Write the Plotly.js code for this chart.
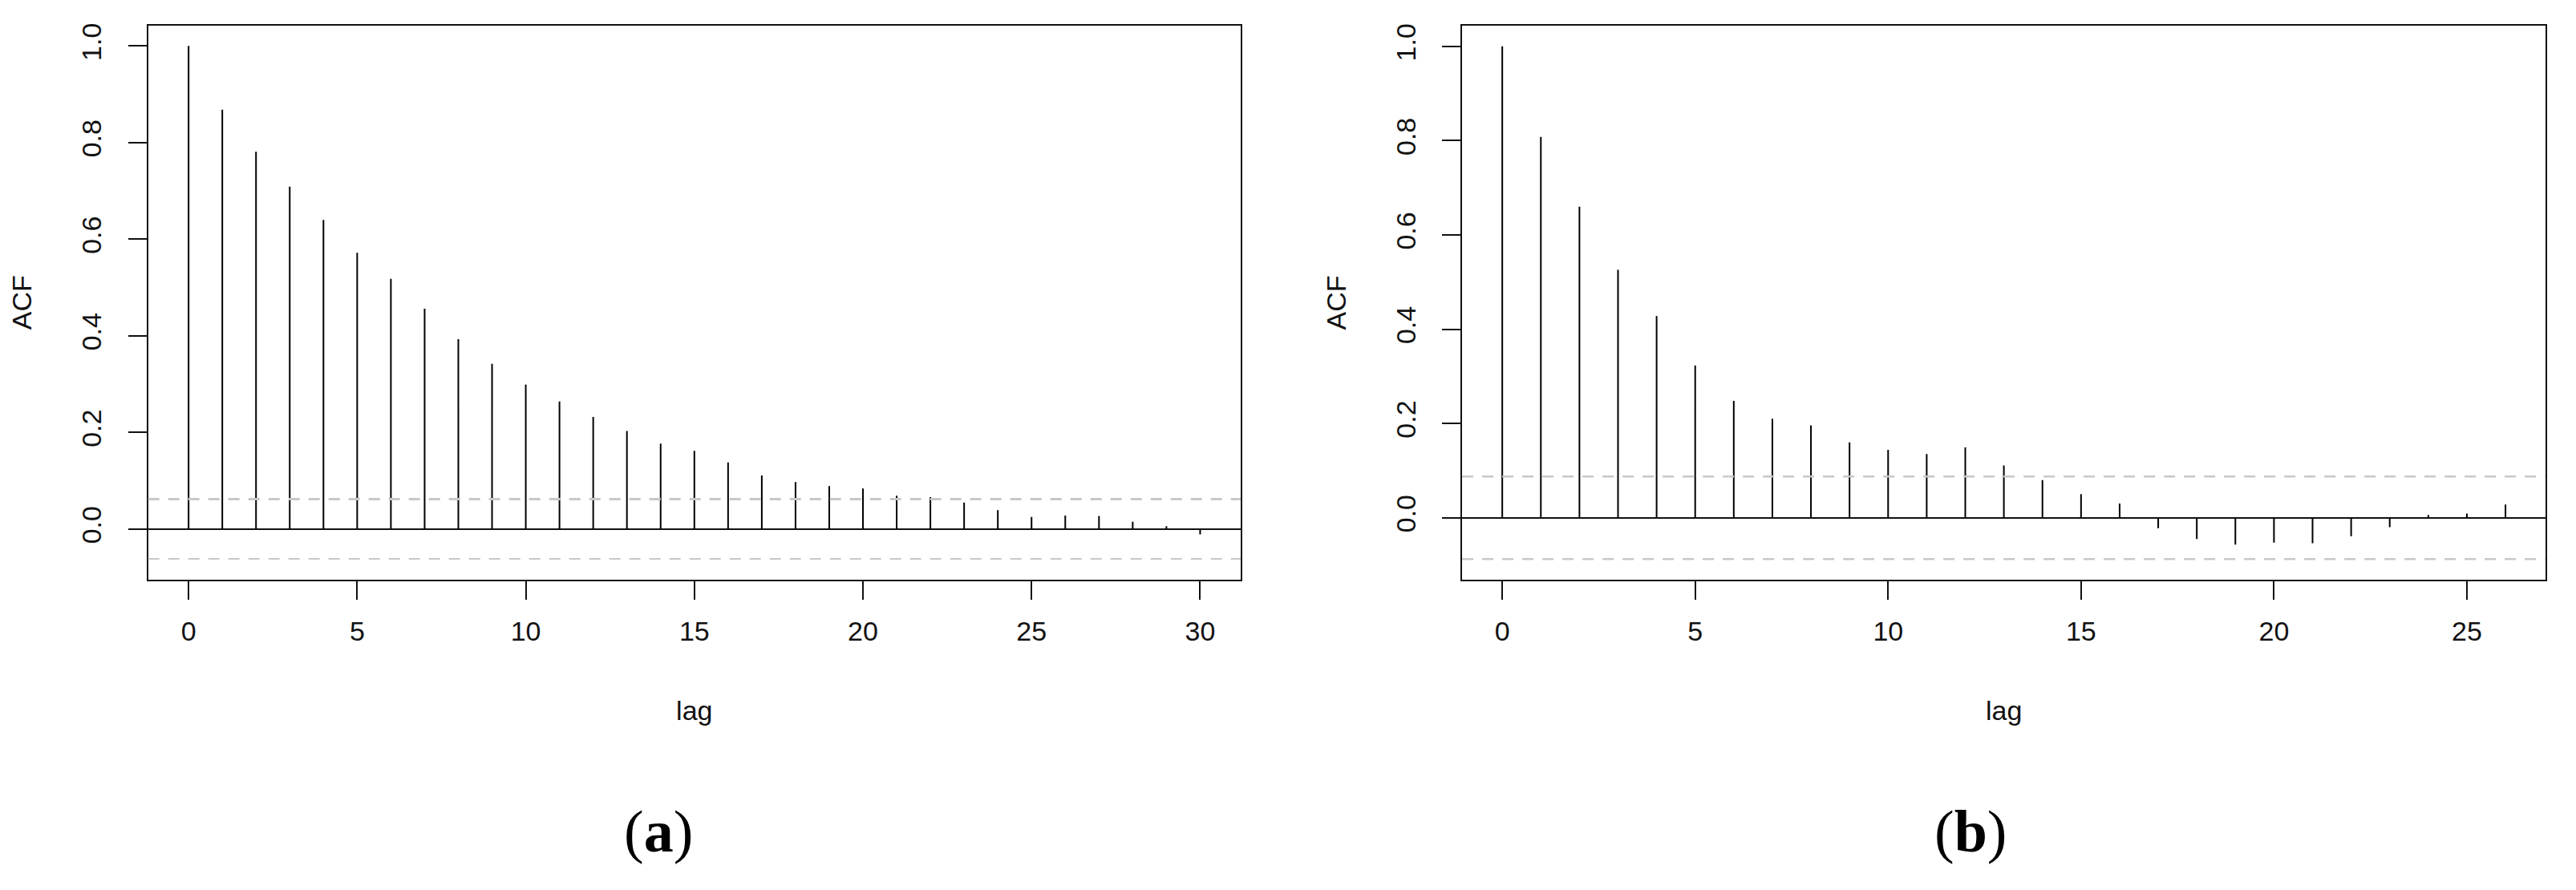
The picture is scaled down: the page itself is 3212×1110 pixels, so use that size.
<!DOCTYPE html>
<html>
<head>
<meta charset="utf-8">
<script src="https://cdn.plot.ly/plotly-3.0.1.min.js"></script>
<style>
  body { margin: 0; background: #fff; }
  #graph { width: 3212px; height: 1110px; }
</style>
</head>
<body>
<div id="graph"></div>
<script>
// ACF values
var lagsA = [0, 1, 2, 3, 4, 5, 6, 7, 8, 9, 10, 11, 12, 13, 14, 15, 16, 17, 18, 19, 20, 21, 22, 23, 24, 25, 26, 27, 28, 29, 30];
var acfA = [1.000, 0.868, 0.781, 0.709, 0.640, 0.572, 0.518, 0.456, 0.393, 0.342, 0.299, 0.264, 0.232, 0.203,
            0.177, 0.162, 0.138, 0.111, 0.097, 0.089, 0.084, 0.069, 0.066, 0.055, 0.039, 0.025, 0.028, 0.027,
            0.015, 0.006, -0.011];
var ciA = 0.062;

var lagsB = [0, 1, 2, 3, 4, 5, 6, 7, 8, 9, 10, 11, 12, 13, 14, 15, 16, 17, 18, 19, 20, 21, 22, 23, 24, 25, 26];
var acfB = [1.000, 0.808, 0.660, 0.526, 0.428, 0.323, 0.248, 0.210, 0.196, 0.160, 0.144, 0.135, 0.149, 0.111,
            0.080, 0.050, 0.030, -0.022, -0.045, -0.057, -0.053, -0.054, -0.039, -0.020, 0.006, 0.009, 0.028];
var ciB = 0.0875;

var captions = ['(<b>a</b>)', '(<b>b</b>)'];

var sans = 'Liberation Sans, Arial, Helvetica, sans-serif';
var serif = 'Liberation Serif, Times New Roman, serif';

// vertical stems from 0 up (or down) to each value
function stems(lags, vals, xa, ya) {
    var x = [], y = [];
    for (var i = 0; i < lags.length; i++) {
        x.push(lags[i], lags[i], null);
        y.push(0, vals[i], null);
    }
    return {
        x: x, y: y,
        xaxis: xa, yaxis: ya,
        type: 'scatter',
        mode: 'lines',
        line: { color: '#000', width: 2 },
        hoverinfo: 'skip',
        showlegend: false
    };
}

function ciLine(xa, ya, v, w) {
    return {
        type: 'line', xref: xa + ' domain', yref: ya,
        x0: 0, x1: 1, y0: v, y1: v,
        line: { color: '#c8c8c8', width: w, dash: '14px,11px' }
    };
}

function xAxis(domain, range, anchor) {
    return {
        domain: domain, range: range, anchor: anchor,
        tick0: 0, dtick: 5,
        showgrid: false, zeroline: false,
        showline: true, mirror: true, linecolor: '#111', linewidth: 2,
        ticks: 'outside', ticklen: 23, tickwidth: 2, tickcolor: '#111',
        ticklabelstandoff: 10,
        tickfont: { family: sans, size: 34, color: '#111' },
        title: { text: 'lag', font: { family: sans, size: 34, color: '#111' }, standoff: 70 }
    };
}

function yAxis(domain, range, anchor) {
    return {
        domain: domain, range: range, anchor: anchor,
        tick0: 0, dtick: 0.2, tickformat: '.1f',
        tickangle: -90,
        showgrid: false,
        zeroline: true, zerolinecolor: '#111', zerolinewidth: 2,
        showline: true, mirror: true, linecolor: '#111', linewidth: 2,
        ticks: 'outside', ticklen: 23, tickwidth: 2, tickcolor: '#111',
        ticklabelstandoff: 20,
        tickfont: { family: sans, size: 34, color: '#111' },
        title: { text: 'ACF', font: { family: sans, size: 34, color: '#111' }, standoff: 45 }
    };
}

var data = [
    stems(lagsA, acfA, 'x', 'y'),
    stems(lagsB, acfB, 'x2', 'y2')
];

var layout = {
    width: 3212,
    height: 1110,
    margin: { l: 0, r: 0, t: 0, b: 0 },
    paper_bgcolor: '#fff',
    plot_bgcolor: '#fff',
    xaxis: xAxis([0.0575, 0.4816], [-1.2, 31.2], 'y'),
    yaxis: yAxis([0.3489, 0.9714], [-0.1045, 1.0425], 'x'),
    xaxis2: xAxis([0.5676, 0.9882], [-1.04, 27.04], 'y2'),
    yaxis2: yAxis([0.3489, 0.9709], [-0.131, 1.0435], 'x2'),
    shapes: [
        ciLine('x', 'y', ciA, 3), ciLine('x', 'y', -ciA, 2),
        ciLine('x2', 'y2', ciB, 2.5), ciLine('x2', 'y2', -ciB, 2.5)
    ],
    annotations: [
        { text: captions[0], xref: 'paper', yref: 'paper', x: 0.2556, y: 0.066,
          xanchor: 'center', yanchor: 'middle',
          showarrow: false, font: { family: serif, size: 74, color: '#000' } },
        { text: captions[1], xref: 'paper', yref: 'paper', x: 0.765, y: 0.066,
          xanchor: 'center', yanchor: 'middle',
          showarrow: false, font: { family: serif, size: 74, color: '#000' } }
    ]
};

Plotly.newPlot('graph', data, layout, { displayModeBar: false, staticPlot: true });
</script>
</body>
</html>
